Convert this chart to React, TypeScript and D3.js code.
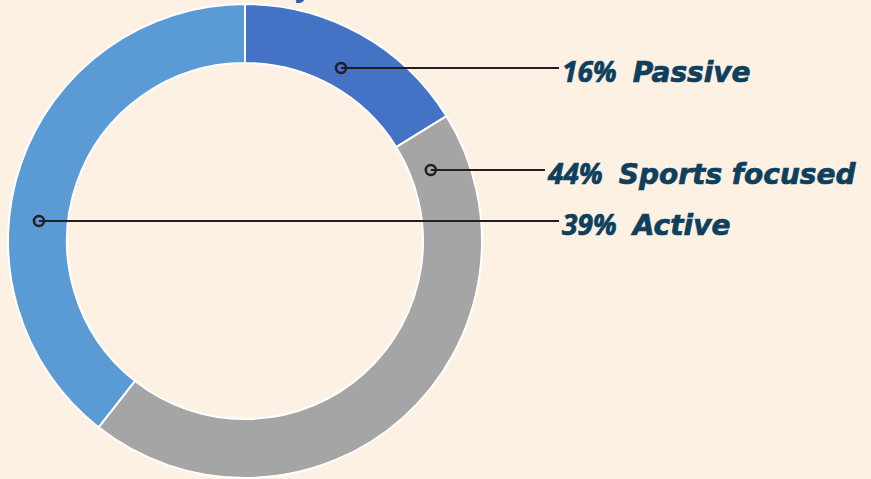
import React from "react";
import * as d3 from "d3";

const categories = ["Passive", "Sports focused", "Active"];
const values = [16, 44, 39];
const colors = ["#4472C4", "#A5A5A5", "#5B9BD5"];
const labelAngles = [29, 69, 275.5]; // degrees, where leader dots sit
const labelRadii = [198, 199, 207];
const labelYs = [68, 170, 221];
const labelXs = [559, 545, 559];

const W = 871;
const H = 479;

export default function App() {
  const cx = 245;
  const cy = 241;
  const outerR = 237;
  const innerR = 178;
  const pie = d3.pie<number>().sort(null).startAngle(0).endAngle(2 * Math.PI);
  const arcs = pie(values);
  const arcGen = d3.arc<d3.PieArcDatum<number>>().innerRadius(innerR).outerRadius(outerR);
  return (
    <div style={{ position: "fixed", left: 0, top: 0, width: W, height: H }}>
      <svg width={W} height={H} style={{ display: "block" }}>
        <rect width={W} height={H} fill="#FCF1E3" />
        <text x={312} y={-4} textAnchor="end" fontFamily="'Open Sans', sans-serif" fontWeight={700} fontSize={30} fill="#2B5CAF">Activity</text>
        <g transform={`translate(${cx},${cy})`}>
          {arcs.map((a, i) => (
            <path key={i} d={arcGen(a) || ""} fill={colors[i]} stroke="#FFFFFF" strokeWidth={2} />
          ))}
        </g>
        {categories.map((c, i) => {
          const ang = (labelAngles[i] * Math.PI) / 180;
          const dx = cx + labelRadii[i] * Math.sin(ang);
          const y = labelYs[i];
          return (
            <g key={c}>
              <line x1={dx} y1={y} x2={labelXs[i]} y2={y} stroke="#231F20" strokeWidth={2} />
              <circle cx={dx} cy={y} r={5} fill="none" stroke="#231F20" strokeWidth={2.5} />
              <text x={labelXs[i] + 3} y={y + 14} fontStyle="italic" fontWeight={700} fontSize={28} fill="#0E3F5C" stroke="#0E3F5C" strokeWidth={0.7}>
                <tspan fontFamily="'Open Sans', sans-serif">{`${values[i]}%`}</tspan>
                <tspan dx={16} fontFamily="'DejaVu Sans', sans-serif" fontSize={28}>{c}</tspan>
              </text>
            </g>
          );
        })}
      </svg>
    </div>
  );
}
